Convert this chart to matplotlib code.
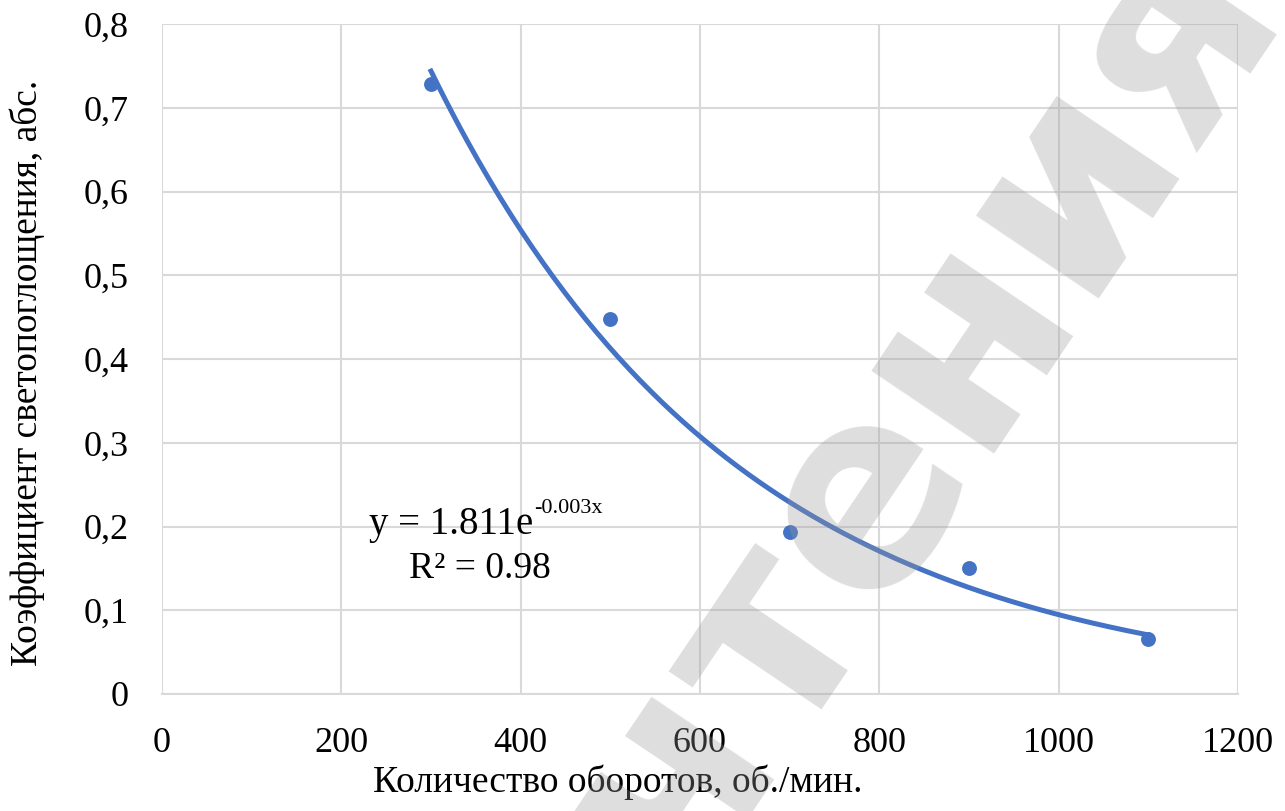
import numpy as np
import matplotlib.pyplot as plt

# data
rpm = [300, 500, 700, 900, 1100]
absorb = [0.728, 0.448, 0.194, 0.151, 0.066]

x_ticks = [0, 200, 400, 600, 800, 1000, 1200]
y_ticks = [0, 0.1, 0.2, 0.3, 0.4, 0.5, 0.6, 0.7, 0.8]
y_labels = ["0", "0,1", "0,2", "0,3", "0,4", "0,5", "0,6", "0,7", "0,8"]

blue = "#4472C4"
grid_c = "#d9d9d9"

plt.rcParams["font.family"] = ["Liberation Serif", "DejaVu Serif"]

fig = plt.figure(figsize=(12.85, 8.11), dpi=100)
ax = fig.add_axes([162 / 1285, 1 - 694 / 811, 1076 / 1285, 670 / 811])

# exponential trend line fitted to the points
k, lnA = np.polyfit(rpm, np.log(absorb), 1)
xs = np.linspace(rpm[0], rpm[-1], 200)
ax.plot(xs, np.exp(lnA) * np.exp(k * xs), color=blue, lw=3.6, zorder=3)
ax.scatter(rpm, absorb, s=115, color=blue, zorder=4, linewidths=0)

ax.set_xlim(0, 1200)
ax.set_ylim(0, 0.8)
ax.set_xticks(x_ticks)
ax.set_yticks(y_ticks)
ax.set_yticklabels(y_labels)
ax.tick_params(length=0, labelsize=26)
ax.tick_params(axis="x", pad=24)
ax.tick_params(axis="y", pad=24)
ax.grid(True, color=grid_c, lw=1.5)
ax.set_axisbelow(True)
for s in ax.spines.values():
    s.set_visible(False)
ax.spines["bottom"].set_visible(True)
ax.spines["bottom"].set_color(grid_c)
ax.spines["bottom"].set_linewidth(1.5)

ax.set_xlabel("Количество оборотов, об./мин.", fontsize=27, labelpad=4)
ax.xaxis.set_label_coords(0.424, -0.105)
ax.set_ylabel("Коэффициент светопоглощения, абс.", fontsize=27)
ax.yaxis.set_label_coords(-0.109, 0.48)

# trend equation
t = ax.text(323, 0.202, "y = 1.811e", fontsize=28, ha="center", va="center")
ax.annotate("-0.003x", xy=(1, 1), xycoords=t, fontsize=16,
            ha="left", va="top", xytext=(0, 5), textcoords="offset points")
ax.text(354, 0.15, "R² = 0.98", fontsize=27, ha="center", va="center")

# watermark
fig.text(0.715, 0.50, "чтения", fontsize=195, fontweight="bold",
         family="DejaVu Sans", color="#9a9a9a", alpha=0.32,
         rotation=56, ha="center", va="center", zorder=10)

fig.savefig("out.png", dpi=100)
